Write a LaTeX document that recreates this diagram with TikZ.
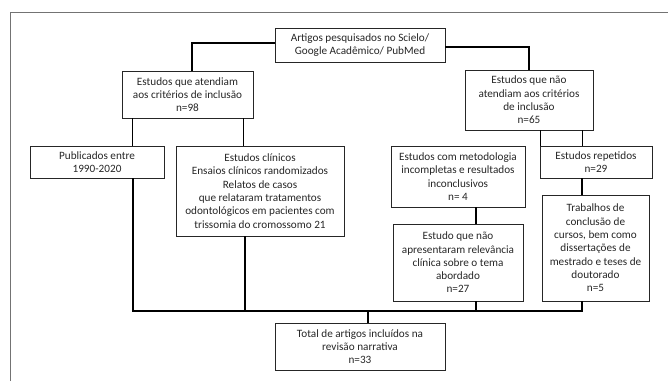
\documentclass[tikz,border=0pt]{standalone}
\usepackage{fontspec}
\setmainfont{Carlito}
\usepackage{tikz}
\usetikzlibrary{positioning, calc}
\tikzset{caixa/.style={draw=black!85, line width=0.8pt, align=center, inner sep=0pt,
                       text=black!85, font=\fontsize{11.2}{13.3}\selectfont},
         liga/.style={line width=1.3pt, black}}

\begin{document}
\begin{tikzpicture}[x=1pt, y=-1pt]
    \useasboundingbox (0,0) rectangle (668,381);
    \draw[black!55, line width=1pt] (10,381) -- (10,12) -- (668,12);
    % caixas
    \node[caixa, minimum width=170pt, minimum height=34pt] (busca) at (360,45)
        {Artigos pesquisados no Scielo/\\Google Acadêmico/ PubMed};
    \node[caixa, minimum width=131pt, minimum height=47pt] (incl) at (187.5,94.5)
        {Estudos que atendiam\\aos critérios de inclusão\\n=98};
    \node[caixa, minimum width=128pt, minimum height=60pt] (excl) at (529,100)
        {Estudos que não\\atendiam aos critérios\\de inclusão\\n=65};
    \node[caixa, minimum width=134pt, minimum height=32pt] (periodo) at (97,162)
        {Publicados entre\\1990-2020};
    \node[caixa, minimum width=168pt, minimum height=90pt] (clinicos) at (260,191)
        {Estudos clínicos\\Ensaios clínicos randomizados\\Relatos de casos\\que relataram tratamentos\\odontológicos em pacientes com\\trissomia do cromossomo 21};
    \node[caixa, minimum width=134pt, minimum height=61pt] (metodo) at (458,176.5)
        {Estudos com metodologia\\incompletas e resultados\\inconclusivos\\n= 4};
    \node[caixa, minimum width=130pt, minimum height=77pt] (relev) at (458,262.5)
        {Estudo que não\\apresentaram relevância\\clínica sobre o tema\\abordado\\n=27};
    \node[caixa, minimum width=112pt, minimum height=32pt] (repet) at (596,162)
        {Estudos repetidos\\n=29};
    \node[caixa, minimum width=107pt, minimum height=106pt] (trab) at (595.5,248)
        {Trabalhos de\\conclusão de\\cursos, bem como\\dissertações de\\mestrado e teses de\\doutorado\\n=5};
    \node[caixa, minimum width=170pt, minimum height=47pt] (total) at (360,346.5)
        {Total de artigos incluídos na\\revisão narrativa\\n=33};
    % ligacoes
    \coordinate (barra) at (368,311);
    \draw[liga] ([yshift=2pt]busca.west) -| ([xshift=4.5pt]incl.north);
    \draw[liga] ([yshift=-2pt]busca.east) -| (excl.north);
    \draw[liga] ([xshift=11pt]incl.south west) -- ([xshift=11pt]incl.south west |- periodo.north);
    \draw[liga] ([xshift=-10pt]incl.south east) -- ([xshift=-10pt]incl.south east |- clinicos.north);
    \draw[liga] ([xshift=-53pt]excl.south east) -- ([xshift=-53pt]excl.south east |- metodo.north);
    \draw[liga] ([xshift=-11pt]excl.south east) -- ([xshift=-11pt]excl.south east |- repet.north);
    \draw[liga] ([xshift=18pt]metodo.south) -- ([xshift=18pt]relev.north);
    \draw[liga] ([xshift=-14pt]repet.south) -- ([xshift=-13.5pt]trab.north);
    \draw[liga] ([xshift=36pt]periodo.south) -- ([xshift=36pt]periodo.south |- barra) -| ([xshift=-13.5pt]trab.south);
    \draw[liga] ([xshift=-15pt]clinicos.south) -- ([xshift=-15pt]clinicos.south |- barra);
    \draw[liga] ([xshift=18pt]relev.south) -- ([xshift=18pt]relev.south |- barra);
    \draw[liga] (barra) -- ([xshift=8pt]total.north);
\end{tikzpicture}
\end{document}
